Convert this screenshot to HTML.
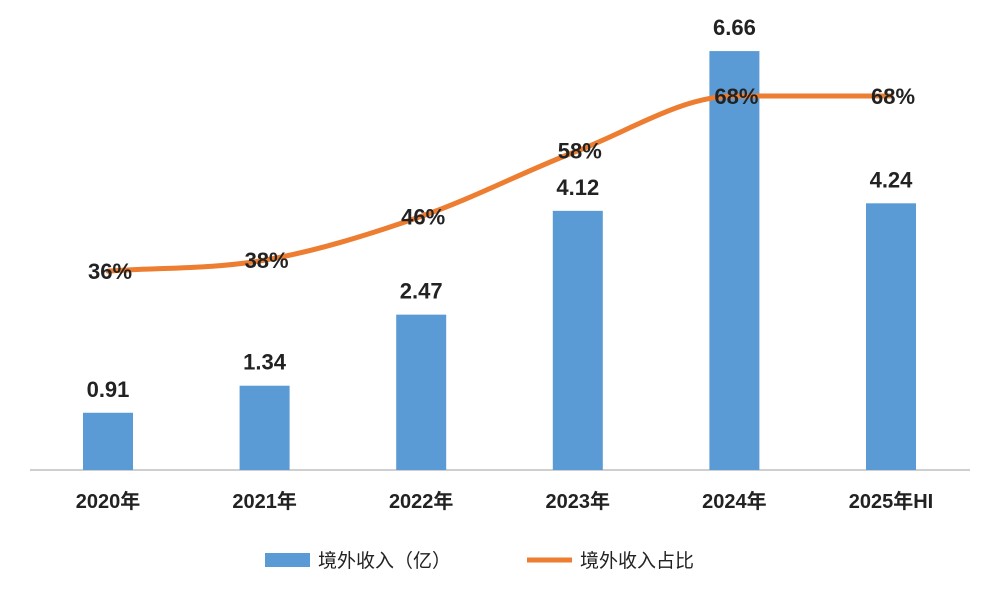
<!DOCTYPE html>
<html><head><meta charset="utf-8"><style>
body{margin:0;background:#fff;}
svg{display:block;font-family:"Liberation Sans","Noto Sans CJK SC",sans-serif;}
</style></head><body>
<svg id="chart" width="1001" height="600">
<line x1="30" y1="470" x2="970" y2="470" stroke="#bfbfbf" stroke-width="1.5"/>
<g id="bars"></g><g id="line"></g><g id="labels"></g>
<g>
<rect x="265" y="553" width="45" height="14" fill="#5b9bd5"/>
<text x="318" y="567" font-size="19" fill="#222">境外收入（亿）</text>
<line x1="527" y1="560" x2="572" y2="560" stroke="#ed7d31" stroke-width="5"/>
<text x="580" y="567" font-size="19" fill="#222">境外收入占比</text>
</g>
</svg>
<script>
const categories=["2020年","2021年","2022年","2023年","2024年","2025年HI"];
const income=[0.91,1.34,2.47,4.12,6.66,4.24];
const incomeLabels=["0.91","1.34","2.47","4.12","6.66","4.24"];
const ratio=[36,38,46,58,68,68];
const ratioLabels=["36%","38%","46%","58%","68%","68%"];
const NS="http://www.w3.org/2000/svg";
const x=i=>108+i*156.6;
const yBar=v=>470-v*62.9;
const yLine=v=>468-v*5.47;
function mk(t,a,p){const e=document.createElementNS(NS,t);for(const k in a)e.setAttribute(k,a[k]);p.appendChild(e);return e;}
const gb=document.getElementById('bars'),gl=document.getElementById('line'),gt=document.getElementById('labels');
categories.forEach((c,i)=>{
 const r=mk('rect',{x:x(i)-25,y:yBar(income[i]),width:50,height:470-yBar(income[i]),fill:'#5b9bd5'},gb);
 
 
 const t=mk('text',{x:x(i),y:yBar(income[i])-16,'text-anchor':'middle','font-size':22,'font-weight':'bold',fill:'#222'},gt);
 t.textContent=incomeLabels[i];
 
 
 const cl=mk('text',{x:x(i),y:508,'text-anchor':'middle','font-size':20,'font-weight':'bold',fill:'#222'},gt);
 cl.textContent=c;
 
 
});
// monotone cubic
const pts=ratio.map((v,i)=>[x(i),yLine(v)]);
const n=pts.length,dl=[],m=[];
for(let i=0;i<n-1;i++)dl.push((pts[i+1][1]-pts[i][1])/(pts[i+1][0]-pts[i][0]));
for(let i=0;i<n;i++){
 if(i===0)m.push(dl[0]);else if(i===n-1)m.push(dl[n-2]);
 else m.push(dl[i-1]*dl[i]<=0?0:(dl[i-1]+dl[i])/2);
}
for(let i=0;i<n-1;i++){if(dl[i]===0){m[i]=0;m[i+1]=0;}}
let d='M'+pts[0];
for(let i=1;i<n;i++){
 const h=(pts[i][0]-pts[i-1][0])/3;
 d+=' C'+[pts[i-1][0]+h,pts[i-1][1]+m[i-1]*h]+' '+[pts[i][0]-h,pts[i][1]-m[i]*h]+' '+pts[i];
}
const path=mk('path',{d:d,fill:'none',stroke:'#ed7d31','stroke-width':5,'stroke-linecap':'round'},gl);


ratio.forEach((v,i)=>{
 const t=mk('text',{x:x(i)+2,y:yLine(v)+8,'text-anchor':'middle','font-size':22,'font-weight':'bold',fill:'#222'},gt);
 t.textContent=ratioLabels[i];
 
 
});
</script>
</body></html>
